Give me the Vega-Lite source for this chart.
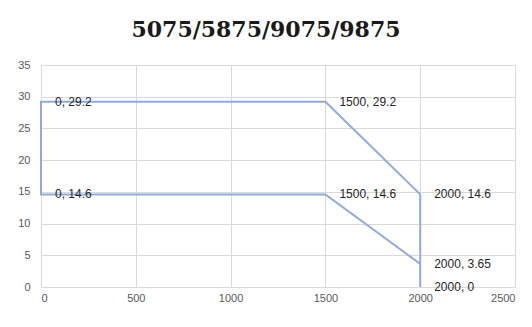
{
  "$schema": "https://vega.github.io/schema/vega-lite/v6.json",
  "autosize": {"type": "none"},
  "width": 474,
  "height": 222,
  "padding": {"left": 41, "top": 65, "right": 17, "bottom": 40},
  "background": "white",
  "title": {
    "text": "5075/5875/9075/9875",
    "font": "DejaVu Serif",
    "fontSize": 22,
    "fontWeight": "bold",
    "color": "#1a1a1a",
    "anchor": "middle",
    "offset": 17,
    "dx": -12
  },
  "data": {
    "values": [
      {"order": 1, "x": 2000, "y": 3.65, "label": "2000, 3.65"},
      {"order": 2, "x": 1500, "y": 14.6, "label": "1500, 14.6"},
      {"order": 3, "x": 0, "y": 14.6, "label": "0, 14.6"},
      {"order": 4, "x": 0, "y": 29.2, "label": "0, 29.2"},
      {"order": 5, "x": 1500, "y": 29.2, "label": "1500, 29.2"},
      {"order": 6, "x": 2000, "y": 14.6, "label": "2000, 14.6"},
      {"order": 7, "x": 2000, "y": 0, "label": "2000, 0"}
    ]
  },
  "encoding": {
    "x": {
      "field": "x", "type": "quantitative",
      "scale": {"domain": [0, 2500], "nice": false},
      "axis": {"values": [0, 500, 1000, 1500, 2000, 2500], "format": "d", "title": null, "domain": false, "ticks": false,
               "grid": true, "gridColor": "#D9D9D9", "labelPadding": 5,
               "labelFont": "Liberation Sans", "labelFontSize": 11, "labelColor": "#595959"}
    },
    "y": {
      "field": "y", "type": "quantitative",
      "scale": {"domain": [0, 35], "nice": false},
      "axis": {"values": [0, 5, 10, 15, 20, 25, 30, 35], "title": null, "domain": false, "ticks": false,
               "grid": true, "gridColor": "#D9D9D9", "labelPadding": 11,
               "labelFont": "Liberation Sans", "labelFontSize": 11, "labelColor": "#595959"}
    }
  },
  "layer": [
    {
      "mark": {"type": "line", "color": "#8FAADC", "strokeWidth": 2, "clip": false},
      "encoding": {"order": {"field": "order", "type": "quantitative"}}
    },
    {
      "mark": {"type": "text", "align": "left", "baseline": "middle", "dx": 14,
               "font": "Liberation Sans", "fontSize": 12, "color": "#262626"},
      "encoding": {"text": {"field": "label"}}
    }
  ],
  "config": {"view": {"stroke": null}}
}
